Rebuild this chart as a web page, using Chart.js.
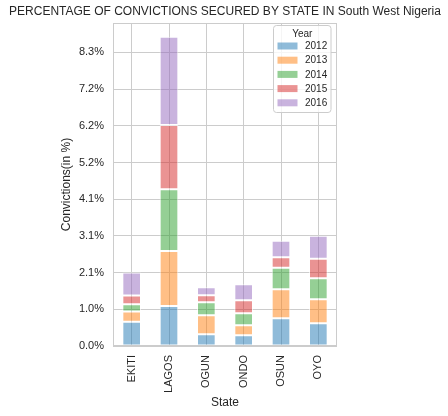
<!DOCTYPE html>
<html>
<head>
<meta charset="utf-8">
<script src="https://cdn.jsdelivr.net/npm/chart.js@4.4.0/dist/chart.umd.min.js"></script>
<style>
  html, body { margin: 0; padding: 0; background: #fff; }
  #wrap { width: 448px; height: 416px; position: relative; }
</style>
</head>
<body>
<div id="wrap"><canvas id="grafico"></canvas></div>
<script>
// Dados (percentual de condenações por estado)
const estados = ["EKITI", "LAGOS", "OGUN", "ONDO", "OSUN", "OYO"];
const anos = ["2012", "2013", "2014", "2015", "2016"];

const v2012 = [0.685, 1.127, 0.330, 0.300, 0.780, 0.640];
const v2013 = [0.290, 1.551, 0.535, 0.283, 0.818, 0.676];
const v2014 = [0.200, 1.739, 0.367, 0.338, 0.609, 0.592];
const v2015 = [0.250, 1.812, 0.197, 0.368, 0.293, 0.553];
const v2016 = [0.650, 2.489, 0.225, 0.451, 0.468, 0.648];

const yTicks = [0, 1.034, 2.069, 3.103, 4.138, 5.172, 6.207, 7.241, 8.276];
const yTickLabels = ["0.0%", "1.0%", "2.1%", "3.1%", "4.1%", "5.2%", "6.2%", "7.2%", "8.3%"];

const cores = [
    "rgba(31,119,180,0.5)",
    "rgba(255,127,14,0.5)",
    "rgba(44,160,44,0.5)",
    "rgba(214,39,40,0.5)",
    "rgba(148,103,189,0.5)"
];

const series = [v2012, v2013, v2014, v2015, v2016];
const COR_TEXTO = "#262626";
const COR_GRADE = "#cccccc";
const FONTE = "'Liberation Sans', Arial, sans-serif";

// Título, moldura e legenda desenhados à mão (estilo matplotlib)
const extras = {
    id: "extras",
    afterDraw(chart) {
        const ctx = chart.ctx;
        const a = chart.chartArea;
        ctx.save();

        // moldura do eixo
        ctx.strokeStyle = COR_GRADE;
        ctx.lineWidth = 1;
        ctx.strokeRect(a.left + 0.5, a.top + 0.5, a.right - a.left - 1, a.bottom - a.top - 1);

        // título
        ctx.fillStyle = COR_TEXTO;
        ctx.font = "12px " + FONTE;
        ctx.textAlign = "center";
        ctx.textBaseline = "middle";
        ctx.fillText("PERCENTAGE OF CONVICTIONS SECURED BY STATE IN South West Nigeria", (a.left + a.right) / 2, 12);

        // legenda
        const lx = 273.5, ly = 25.5, lw = 57.5, lh = 87;
        ctx.beginPath();
        ctx.roundRect(lx, ly, lw, lh, 3);
        ctx.fillStyle = "rgba(255,255,255,0.8)";
        ctx.fill();
        ctx.strokeStyle = COR_GRADE;
        ctx.stroke();

        ctx.fillStyle = COR_TEXTO;
        ctx.font = "10px " + FONTE;
        ctx.fillText("Year", lx + lw / 2, 34.5);

        chart.data.datasets.forEach((ds, i) => {
            const cy = 46 + i * 14.2;
            ctx.fillStyle = ds.backgroundColor;
            ctx.fillRect(277.5, cy - 3.5, 20, 7);
            ctx.fillStyle = COR_TEXTO;
            ctx.textAlign = "left";
            ctx.fillText(ds.label, 305, cy + 0.5);
        });

        ctx.restore();
    }
};

const ctx = document.getElementById("grafico").getContext("2d");
new Chart(ctx, {
    type: "bar",
    data: {
        labels: estados,
        datasets: anos.map((ano, i) => ({
            label: ano,
            data: series[i],
            backgroundColor: cores[i],
            borderColor: "rgba(255,255,255,0.6)",
            borderWidth: 1,
            borderSkipped: false,
            categoryPercentage: 1.0,
            barPercentage: 0.5
        }))
    },
    options: {
        responsive: true,
        maintainAspectRatio: false,
        animation: false,
        devicePixelRatio: 1,
        layout: { padding: { left: 55, right: 111, top: 23, bottom: 2 } },
        plugins: {
            legend: { display: false },
            title: { display: false },
            tooltip: { enabled: false }
        },
        scales: {
            x: {
                stacked: true,
                grid: { color: COR_GRADE, offset: false, drawTicks: false },
                border: { display: false },
                ticks: {
                    color: COR_TEXTO,
                    font: { family: FONTE, size: 11 },
                    minRotation: 90,
                    maxRotation: 90,
                    padding: 9
                },
                title: {
                    display: true,
                    text: "State",
                    color: COR_TEXTO,
                    font: { family: FONTE, size: 12 }
                },
                afterFit: (s) => { s.height = 68; }
            },
            y: {
                stacked: true,
                min: 0,
                max: 9.105,
                grid: { color: COR_GRADE, drawTicks: false },
                border: { display: false },
                afterBuildTicks: (s) => { s.ticks = yTicks.map(v => ({ value: v })); },
                ticks: {
                    color: COR_TEXTO,
                    font: { family: FONTE, size: 11 },
                    padding: 9,
                    callback: (v, i) => yTickLabels[i]
                },
                title: {
                    display: true,
                    text: "Convictions(in %)",
                    color: COR_TEXTO,
                    font: { family: FONTE, size: 12 }
                },
                afterFit: (s) => { s.width = 58; }
            }
        }
    },
    plugins: [extras]
});
</script>
</body>
</html>
